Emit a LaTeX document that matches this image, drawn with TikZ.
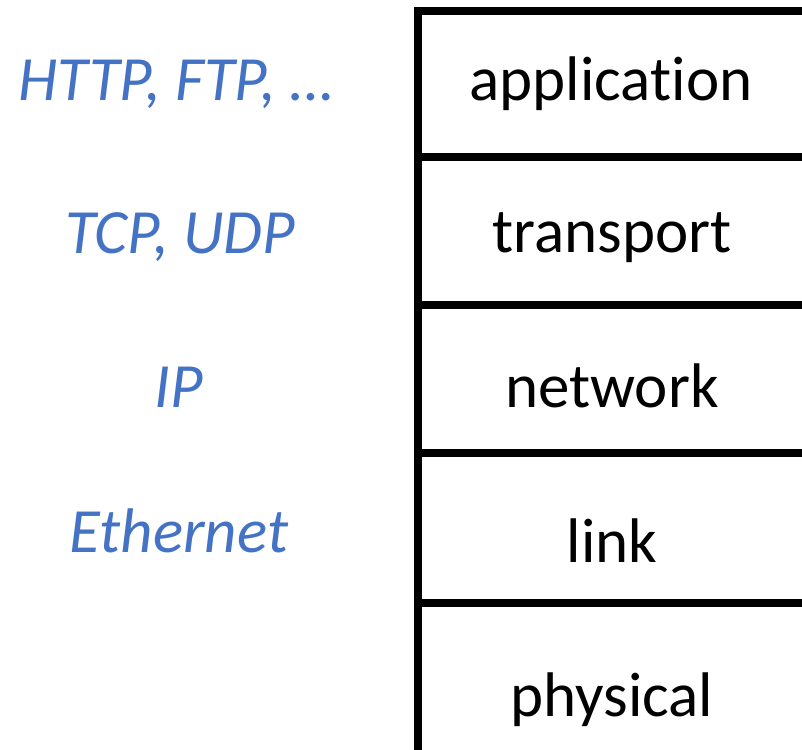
\documentclass[tikz,border=0pt]{standalone}
\usepackage{fontspec}
\setmainfont[Ligatures={NoCommon}]{Carlito}
\definecolor{protoblue}{HTML}{4472C4}
\begin{document}
\begin{tikzpicture}[x=1pt,y=-1pt,
  layerbox/.style={draw=black,line width=8pt},
  layername/.style={anchor=base,inner sep=0pt,font=\fontsize{63}{75}\selectfont},
  proto/.style={anchor=base,inner sep=0pt,text=protoblue,font=\fontsize{63}{75}\selectfont\itshape}]
\useasboundingbox (0,0) rectangle (802,749);
\clip (0,0) rectangle (802,749);
% protocol stack, one box per layer (runs past the right and bottom edges)
\draw[layerbox] (418,11) rectangle (840,157);
\draw[layerbox] (418,157) rectangle (840,305);
\draw[layerbox] (418,305) rectangle (840,453);
\draw[layerbox] (418,453) rectangle (840,603);
\draw[layerbox] (418,603) rectangle (840,790);
% layer names
\node[layername] (app)  at (611,100) {application};
\node[layername] (tra)  at (612,252) {transport};
\node[layername] (net)  at (612,407) {network};
\node[layername] (lnk)  at (612,562) {link};
\node[layername] (phy)  at (612,716) {physical};
% example protocols
\node[proto] (http) at (176,101) {HTTP, FTP, …};
\node[proto] (tcp)  at (180,253) {TCP, UDP};
\node[proto] (ip)   at (179,407) {IP};
\node[proto] (eth)  at (179,552) {Ethernet};
\end{tikzpicture}
\end{document}
